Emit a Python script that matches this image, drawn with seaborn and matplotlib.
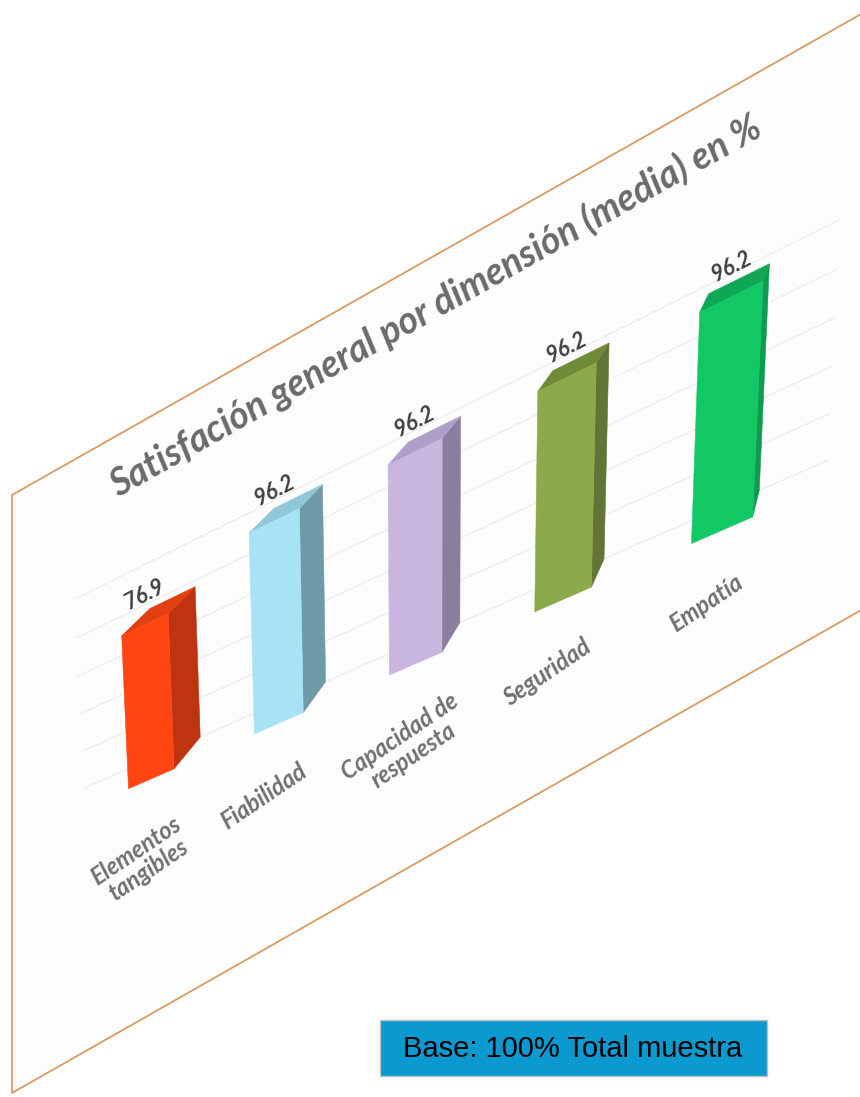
import numpy as np
import pandas as pd
import matplotlib
matplotlib.use("Agg")
import matplotlib.pyplot as plt
import matplotlib.transforms as mtransforms
from matplotlib.patches import Polygon, Rectangle
import seaborn as sns

# chart data
categories = ["Elementos\ntangibles", "Fiabilidad", "Capacidad de\nrespuesta", "Seguridad", "Empatía"]
values = [76.9, 96.2, 96.2, 96.2, 96.2]
grid_values = [0, 20, 40, 60, 80, 100]
title = "Satisfación general por dimensión (media) en %"
note = "Base: 100% Total muestra"

# face colours of the 3d bars
front_colors = ["#FF4612", "#A8E3F5", "#C8B6DF", "#8DAA4B", "#12C865"]
top_colors = ["#E23F10", "#8FC8D9", "#AE9FC7", "#6F8B36", "#0FA656"]
side_colors = ["#BE3410", "#6F9BA8", "#8A7D9D", "#627537", "#0E9D50"]

W, H_PX = 860, 1097
sns.set_style("white")
plt.rcParams["font.family"] = ["Lato", "DejaVu Sans"]

fig = plt.figure(figsize=(W / 100, H_PX / 100), dpi=100)
fig.patch.set_facecolor("white")

# tilted plane behind the chart (image pixel corners)
plane = [(12, 495), (900, -8), (900, 588), (12, 1093)]
fig.add_artist(Polygon([(x / W, 1 - y / H_PX) for x, y in plane], closed=True,
                       facecolor="#FDFDFD", edgecolor="#DA9A62", lw=1.3, zorder=-1))

ax = fig.add_axes([0, 0, 1, 1])
df = pd.DataFrame({"dim": categories, "val": values})
sns.barplot(data=df, x="dim", y="val", hue="dim", palette=front_colors, width=0.37,
            saturation=1, errorbar=None, legend=False, ax=ax)
ax.set_xlim(-0.8, 4.6)
ax.set_ylim(0, 100)
ax.axis("off")


class Persp(mtransforms.Transform):
    """projective map from axes fraction to display pixels"""
    input_dims = 2
    output_dims = 2
    is_separable = False

    def __init__(self, M):
        super().__init__()
        self.M = M

    def transform_non_affine(self, xy):
        xy = np.asarray(xy, float).reshape(-1, 2)
        p = np.column_stack([xy, np.ones(len(xy))]) @ self.M.T
        return p[:, :2] / p[:, 2:3]


def homography(src, dst):
    A, b = [], []
    for (x, y), (u, v) in zip(src, dst):
        A.append([x, y, 1, 0, 0, 0, -u * x, -u * y]); b.append(u)
        A.append([0, 0, 0, x, y, 1, -v * x, -v * y]); b.append(v)
    h = np.linalg.solve(np.array(A, float), np.array(b, float))
    return np.append(h, 1).reshape(3, 3)


# view: where the plot-area corners (x -0.5..4.5, y 0..100) land in the picture
view_data = [(-0.5, 0), (4.5, 0), (4.5, 100), (-0.5, 100)]
view_img = [(90.6, 805.2), (806.2, 493.6), (819.0, 244.1), (80.7, 607.8)]
src = ax.transLimits.transform(view_data)
dst = [(u, H_PX - v) for u, v in view_img]
Hm = homography(src, dst)

# depth direction: vanishing point and depth fraction
vp = np.array([914.0, H_PX + 131.0, 1.0])
qc = Hm @ np.array([0.5, 0.5, 1.0])
lam = 0.038 / (1 - 0.038) * qc[2]
depth = lam * vp
H_back = Hm.copy()
H_back[:, 2] += depth

front_tr = ax.transScale + ax.transLimits + Persp(Hm)
back_tr = ax.transScale + ax.transLimits + Persp(H_back)


def proj(xd, yd, z):
    a, b = ax.transLimits.transform((xd, yd))
    p = Hm @ np.array([a, b, 1.0]) + z * depth
    return p[:2] / p[2]


# gridlines on the back wall
x0, x1 = ax.get_xlim()
for g in grid_values:
    ax.plot([x0, x1], [g, g], transform=back_tr, color="#ECECEC", lw=0.9,
            zorder=0.5, clip_on=False)

bars = sorted(ax.patches, key=lambda p: p.get_x())
for i, (bar, v) in enumerate(zip(bars, values)):
    bar.set_transform(front_tr)
    bar.set_clip_on(False)
    bar.set_zorder(2)
    bar.set_edgecolor(front_colors[i])
    bar.set_linewidth(0.4)
    xl = bar.get_x()
    xr = xl + bar.get_width()
    xc = xl + bar.get_width() / 2
    side = [proj(xr, 0, 0), proj(xr, v, 0), proj(xr, v, 1), proj(xr, 0, 1)]
    top = [proj(xl, v, 0), proj(xr, v, 0), proj(xr, v, 1), proj(xl, v, 1)]
    ax.add_patch(Polygon(side, closed=True, transform=mtransforms.IdentityTransform(),
                         facecolor=side_colors[i], edgecolor=side_colors[i], lw=0.4,
                         zorder=1.5, clip_on=False))
    ax.add_patch(Polygon(top, closed=True, transform=mtransforms.IdentityTransform(),
                         facecolor=top_colors[i], edgecolor=top_colors[i], lw=0.4,
                         zorder=1.5, clip_on=False))

    ax.annotate(f"{v:.1f}", xy=(xc, v), xycoords=front_tr, xytext=(0, 30),
                textcoords="offset pixels", ha="center", va="center", rotation=27,
                fontsize=16, fontweight="bold", style="italic", color="#404040",
                annotation_clip=False)
    ax.annotate(categories[i], xy=(xc, 0), xycoords=front_tr, xytext=(-22, -63),
                textcoords="offset pixels", ha="center", va="top", rotation=34,
                rotation_mode="anchor", multialignment="center", linespacing=1.0,
                fontsize=17, fontweight="bold", style="italic", color="#707070",
                annotation_clip=False)

# title along the tilted plane
fig.text(118 / W, 1 - 498 / H_PX, title, rotation=29.3, rotation_mode="anchor",
         ha="left", va="baseline", fontsize=27, fontweight="bold", style="italic",
         color="#6A6A6A")

# base note box
fig.add_artist(Rectangle((380 / W, 1 - 1076 / H_PX), 387 / W, 56 / H_PX,
                         facecolor="#0A9AD0", edgecolor="#BFBFBF", lw=1.0))
fig.text(573 / W, 1 - 1049 / H_PX, note, ha="center", va="center", fontsize=21,
         family=["Liberation Sans", "DejaVu Sans"], color="black")

fig.savefig("out.png", dpi=100)
